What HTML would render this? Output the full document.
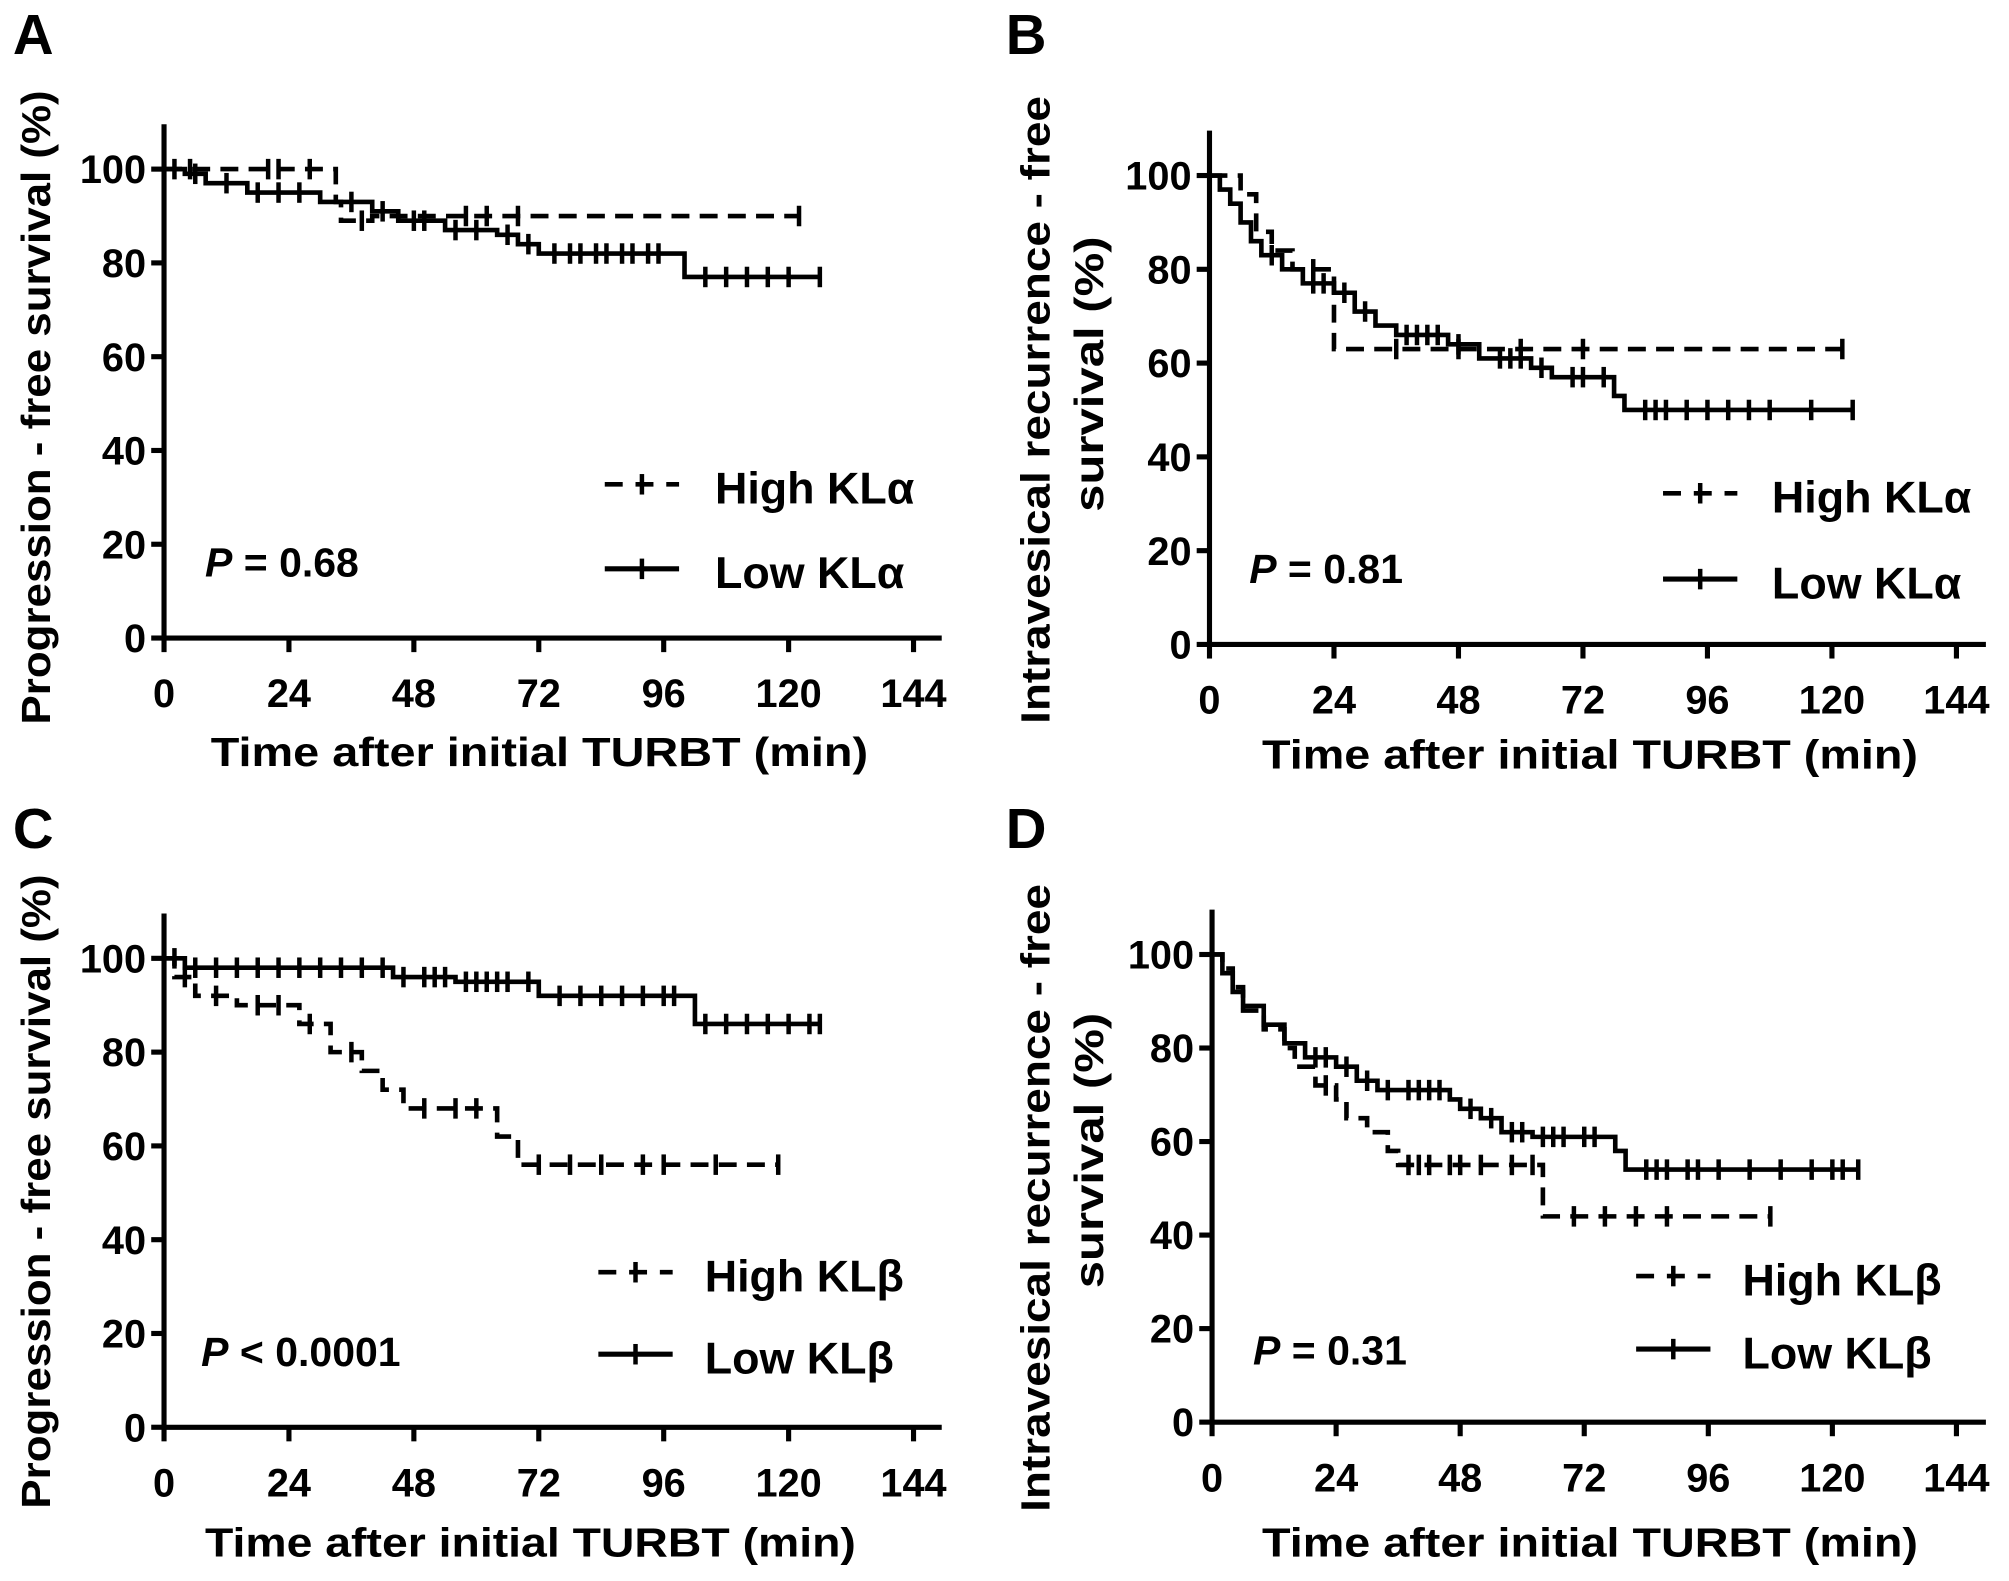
<!DOCTYPE html>
<html><head><meta charset="utf-8"><style>
html,body{margin:0;padding:0;background:#fff;}
svg{display:block;font-family:"Liberation Sans",Arial,sans-serif;font-weight:bold;}
</style></head><body>
<svg id="fig" width="2009" height="1581" viewBox="0 0 1568 1234" xmlns="http://www.w3.org/2000/svg"></svg>
<script>
const xTicks=[0,24,48,72,96,120,144];
const yTicks=[0,20,40,60,80,100];
// Panel A
const aHighSteps=[[0,100],[33,93],[34,89],[40,90]];
const aHighEnd=122;
const aHighCens=[5,20,22,28,38,58,62,68,122];
const aLowSteps=[[0,100],[4,99],[8,97],[16,95],[30,93],[40,91],[45,89],[54,87],[64,86],[68,84],[72,82],[100,77]];
const aLowEnd=126;
const aLowCens=[2,6,12,18,22,26,36,42,48,50,56,60,66,70,75,78,80,83,85,88,90,93,95,104,108,112,116,120,126];
// Panel B
const bHighSteps=[[0,100],[6,96],[9,88],[12,84],[16,80],[24,63]];
const bHighEnd=122;
const bHighCens=[20,36,48,60,72,122];
const bLowSteps=[[0,100],[2,97],[4,94],[6,90],[8,86],[10,83],[14,80],[18,77],[24,75],[28,71],[32,68],[36,66],[46,64],[52,61],[62,59],[66,57],[78,53],[80,50]];
const bLowEnd=124;
const bLowCens=[12,20,22,26,30,38,40,42,44,48,56,58,60,64,70,72,76,84,86,88,92,96,100,104,108,116,124];
// Panel C
const cHighSteps=[[0,100],[2,96],[6,92],[14,90],[26,86],[32,80],[38,76],[42,72],[46,68],[64,62],[68,56]];
const cHighEnd=118;
const cHighCens=[4,10,18,22,28,36,50,56,60,72,78,84,92,96,106,118];
const cLowSteps=[[0,100],[4,98],[44,96],[56,95],[72,92],[102,86]];
const cLowEnd=126;
const cLowCens=[2,6,10,14,18,22,26,30,34,38,42,46,50,52,54,58,60,62,64,66,70,76,80,84,88,92,96,98,104,108,112,116,120,124,126];
// Panel D
const dHighSteps=[[0,100],[2,97],[4,93],[6,88],[10,84],[14,80],[16,76],[20,72],[24,69],[26,65],[30,62],[34,58],[36,55],[64,44]];
const dHighEnd=108;
const dHighCens=[22,38,40,42,46,48,52,58,62,70,76,82,88,108];
const dLowSteps=[[0,100],[2,96],[4,92],[6,89],[10,85],[14,81],[18,78],[24,76],[28,73],[32,71],[46,69],[48,67],[52,65],[56,62],[62,61],[78,58],[80,54]];
const dLowEnd=125;
const dLowCens=[20,22,26,30,34,38,40,42,44,50,54,58,60,64,66,68,72,74,84,86,88,92,94,98,104,110,116,120,122,125];

const NS="http://www.w3.org/2000/svg";
const svg=document.getElementById('fig');
function mk(tag,attrs,parent){const e=document.createElementNS(NS,tag);for(const k in attrs)e.setAttribute(k,attrs[k]);(parent||svg).appendChild(e);return e;}
function txt(s,attrs,parent){const t=mk('text',attrs,parent);t.textContent=s;return t;}

const panels=[
 {id:'a',letter:'A',lx:10,ly:42,x0:128,x1:713,y0:498,y1:132,top:97,right:735,
  yt:[{s:'Progression - free survival (%)',x:28,y:318,len:495}],xt:{x:421,y:598,len:513},
  hi:[aHighSteps,aHighEnd,aHighCens],lo:[aLowSteps,aLowEnd,aLowCens],
  leg:{sx:472,hy:378,ly:444,tx:558,hl:'High KLα',ll:'Low KLα'},p:{x:160,y:450,s:' = 0.68'}},
 {id:'b',letter:'B',lx:785,ly:42,x0:944,x1:1527,y0:503,y1:137,top:102,right:1550,
  yt:[{s:'Intravesical recurrence - free',x:808,y:320,len:490},{s:'survival (%)',x:850,y:292,len:215}],xt:{x:1241,y:600,len:512},
  hi:[bHighSteps,bHighEnd,bHighCens],lo:[bLowSteps,bLowEnd,bLowCens],
  leg:{sx:1298,hy:385,ly:452,tx:1383,hl:'High KLα',ll:'Low KLα'},p:{x:975,y:455,s:' = 0.81'}},
 {id:'c',letter:'C',lx:10,ly:662,x0:128,x1:713,y0:1114,y1:748,top:713,right:735,
  yt:[{s:'Progression - free survival (%)',x:28,y:930,len:495}],xt:{x:414,y:1215,len:508},
  hi:[cHighSteps,cHighEnd,cHighCens],lo:[cLowSteps,cLowEnd,cLowCens],
  leg:{sx:467,hy:993,ly:1057,tx:550,hl:'High KLβ',ll:'Low KLβ'},p:{x:157,y:1066,s:' < 0.0001'}},
 {id:'d',letter:'D',lx:785,ly:662,x0:946,x1:1527,y0:1110,y1:745,top:710,right:1550,
  yt:[{s:'Intravesical recurrence - free',x:808,y:935,len:490},{s:'survival (%)',x:850,y:898,len:215}],xt:{x:1241,y:1215,len:512},
  hi:[dHighSteps,dHighEnd,dHighCens],lo:[dLowSteps,dLowEnd,dLowCens],
  leg:{sx:1277,hy:996,ly:1053,tx:1360,hl:'High KLβ',ll:'Low KLβ'},p:{x:978,y:1065,s:' = 0.31'}}
];

panels.forEach(P=>{
 const g=mk('g',{});
 
 
 const X=t=>P.x0+(P.x1-P.x0)*t/144;
 const Y=v=>P.y0+(P.y1-P.y0)*v/100;
 const L=txt(P.letter,{x:P.lx,y:P.ly,'font-size':44},g);
 
 
 const ax=mk('path',{d:`M${P.x0},${P.top}V${P.y0}H${P.right}`,stroke:'#000','stroke-width':4,fill:'none'},g);
 
 
 yTicks.forEach(v=>{
  mk('line',{x1:P.x0-10,x2:P.x0,y1:Y(v),y2:Y(v),stroke:'#000','stroke-width':4},g);
  const t=txt(String(v),{x:P.x0-14,y:Y(v)+11,'font-size':31,'text-anchor':'end'},g);
  
  
 });
 xTicks.forEach(v=>{
  mk('line',{x1:X(v),x2:X(v),y1:P.y0,y2:P.y0+11,stroke:'#000','stroke-width':4},g);
  const t=txt(String(v),{x:X(v),y:P.y0+54,'font-size':31,'text-anchor':'middle'},g);
  
  
 });
 P.yt.forEach(o=>{
  const t=txt(o.s,{x:o.x,y:o.y,'font-size':32,'text-anchor':'middle',transform:`rotate(-90 ${o.x} ${o.y})`,textLength:o.len,lengthAdjust:'spacingAndGlyphs',dy:11},g);
  
  
 });
 const xt=txt('Time after initial TURBT (min)',{x:P.xt.x,y:P.xt.y,'font-size':32,'text-anchor':'middle',textLength:P.xt.len,lengthAdjust:'spacingAndGlyphs'},g);
 
 
 function curve(ser,dashed,name){
  const [steps,end,cens]=ser;
  let d=`M${X(steps[0][0])},${Y(steps[0][1])}`;
  for(let i=1;i<steps.length;i++){d+=`H${X(steps[i][0])}V${Y(steps[i][1])}`;}
  d+=`H${X(end)}`;
  const attrs={d:d,stroke:'#000','stroke-width':3.6,fill:'none'};
  if(dashed)attrs['stroke-dasharray']='14 8';
  const p=mk('path',attrs,g);
  
  
  cens.forEach(t=>{
   let v=steps[0][1];
   steps.forEach(s=>{if(s[0]<=t)v=s[1];});
   const c=mk('line',{x1:X(t),x2:X(t),y1:Y(v)-8,y2:Y(v)+8,stroke:'#000','stroke-width':3.5},g);
   
   
  });
 }
 curve(P.hi,true,'high');
 curve(P.lo,false,'low');
 const l=P.leg;
 const lh=mk('g',{},g);
 
 
 mk('line',{x1:l.sx,x2:l.sx+58,y1:l.hy,y2:l.hy,stroke:'#000','stroke-width':3.6,'stroke-dasharray':'14 10'},lh);
 mk('line',{x1:l.sx+29,x2:l.sx+29,y1:l.hy-8,y2:l.hy+8,stroke:'#000','stroke-width':3.5},lh);
 txt(l.hl,{x:l.tx,y:l.hy+15,'font-size':35},lh);
 const ll=mk('g',{},g);
 
 
 mk('line',{x1:l.sx,x2:l.sx+58,y1:l.ly,y2:l.ly,stroke:'#000','stroke-width':4},ll);
 mk('line',{x1:l.sx+29,x2:l.sx+29,y1:l.ly-8,y2:l.ly+8,stroke:'#000','stroke-width':3.5},ll);
 txt(l.ll,{x:l.tx,y:l.ly+15,'font-size':35},ll);
 const pt=mk('text',{x:P.p.x,y:P.p.y,'font-size':32},g);
 
 
 const ts=mk('tspan',{'font-style':'italic'},pt);ts.textContent='P';
 const ts2=mk('tspan',{},pt);ts2.textContent=P.p.s;
});
</script>
</body></html>
